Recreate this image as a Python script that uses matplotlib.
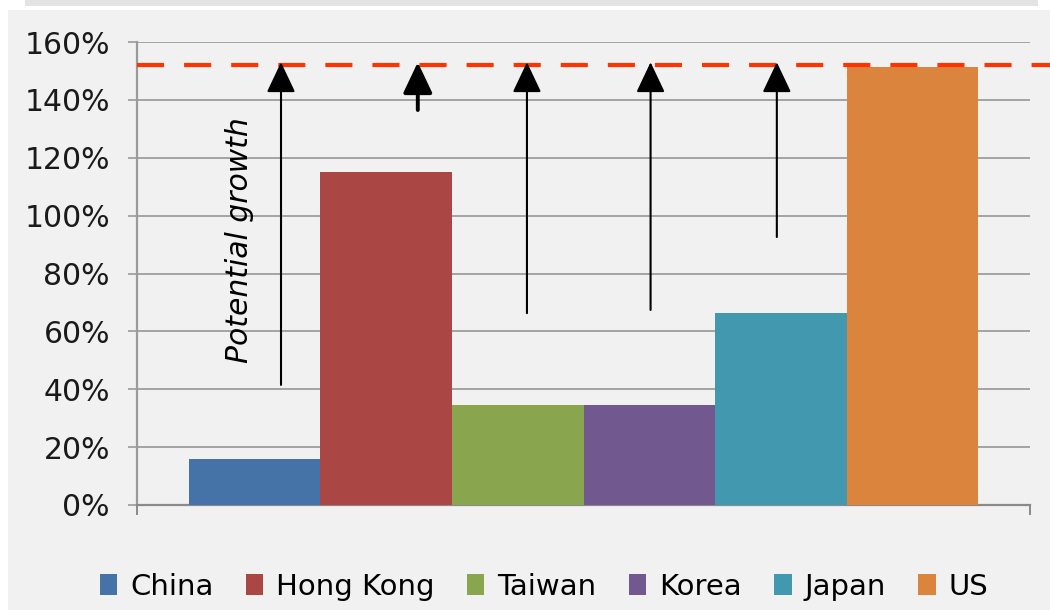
import matplotlib
matplotlib.use("Agg")
import matplotlib.pyplot as plt
from matplotlib.patches import Rectangle, Patch
from matplotlib.ticker import FuncFormatter

# ---- data ----
countries = ["China", "Hong Kong", "Taiwan", "Korea", "Japan", "US"]
values = [0.16, 1.15, 0.345, 0.345, 0.665, 1.515]
colors = ["#4572A7", "#AA4643", "#89A54E", "#71588F", "#4198AF", "#DB843D"]
target_level = 1.52
arrow_x = [0.20, 1.24, 2.07, 3.01, 3.97]
arrow_start = [0.415, 1.365, 0.663, 0.674, 0.926]
yticks = [0, 0.2, 0.4, 0.6, 0.8, 1.0, 1.2, 1.4, 1.6]
annotation_text = "Potential growth"

W, H = 1050, 610
fig = plt.figure(figsize=(W / 100, H / 100), dpi=100, facecolor="white")

# background panels
fig.patches.append(Rectangle((8 / W, 0), 1 - 8 / W, 1 - 10 / H, transform=fig.transFigure,
                             facecolor="#f1f1f1", edgecolor="none", zorder=-10))
fig.patches.append(Rectangle((25 / W, 1 - 6 / H), (1038 - 25) / W, 6 / H, transform=fig.transFigure,
                             facecolor="#e3e3e3", edgecolor="none", zorder=-10))

left, right, bottom_px, top_px = 137, 1030, 505, 42
ax = fig.add_axes([left / W, 1 - bottom_px / H, (right - left) / W, (bottom_px - top_px) / H])
ax.set_facecolor("none")

xpos = list(range(len(countries)))
ax.bar(xpos, values, width=1.0, color=colors, edgecolor="none", zorder=3)

ax.set_xlim(-0.895, 5.895)
ax.set_ylim(0, 1.6)
ax.set_yticks(yticks)
ax.yaxis.set_major_formatter(FuncFormatter(lambda v, p: f"{v*100:.0f}%"))
ax.set_xticks([-0.895, 5.895])
ax.set_xticklabels(["", ""])

ax.grid(axis="y", color="#8e8e8e", linewidth=1.1, zorder=0)
ax.set_axisbelow(True)
for s in ["top", "right"]:
    ax.spines[s].set_visible(False)
ax.spines["left"].set_color("#9a9a9a")
ax.spines["left"].set_linewidth(1.6)
ax.spines["bottom"].set_color("#8a8a8a")
ax.spines["bottom"].set_linewidth(1.6)
ax.tick_params(axis="y", direction="out", length=6.5, width=1.2, color="#9a9a9a",
               pad=13, labelsize=21.5, labelcolor="#1a1a1a")
ax.tick_params(axis="x", direction="out", length=7, width=1.4, color="#8a8a8a")
for lbl in ax.get_yticklabels():
    lbl.set_fontfamily("DejaVu Sans")

# dashed target line (extends to the right edge of the image)
ax.axhline(target_level, xmin=0, xmax=(W - left) / (right - left), color="#ff3300",
           linewidth=3.0, dashes=(6.5, 4.8), clip_on=False, zorder=4)

# arrows
for i, (x, y0) in enumerate(zip(arrow_x, arrow_start)):
    lw = 2.8 if i == 1 else 1.5
    ax.annotate("", xy=(x, target_level + 0.01), xytext=(x, y0),
                arrowprops=dict(arrowstyle="-|>,head_length=1.9,head_width=0.9",
                                mutation_scale=10, color="black", lw=lw,
                                shrinkA=0, shrinkB=0), zorder=5)

ax.text(-0.112, 0.916, annotation_text, rotation=90, ha="center", va="center",
        fontsize=21.5, style="italic", family="DejaVu Sans", color="black", zorder=6)

handles = [Patch(facecolor=c, edgecolor="none", label=n) for c, n in zip(colors, countries)]
fig.legend(handles=handles, loc="center", bbox_to_anchor=(544 / W, 1 - 587 / H), ncol=6,
           frameon=False, prop={"family": "DejaVu Sans", "size": 21},
           handlelength=0.6, handleheight=0.72, handletextpad=0.45, columnspacing=1.1,
           borderpad=0, borderaxespad=0)

fig.savefig("out.png", dpi=100, facecolor=fig.get_facecolor())
